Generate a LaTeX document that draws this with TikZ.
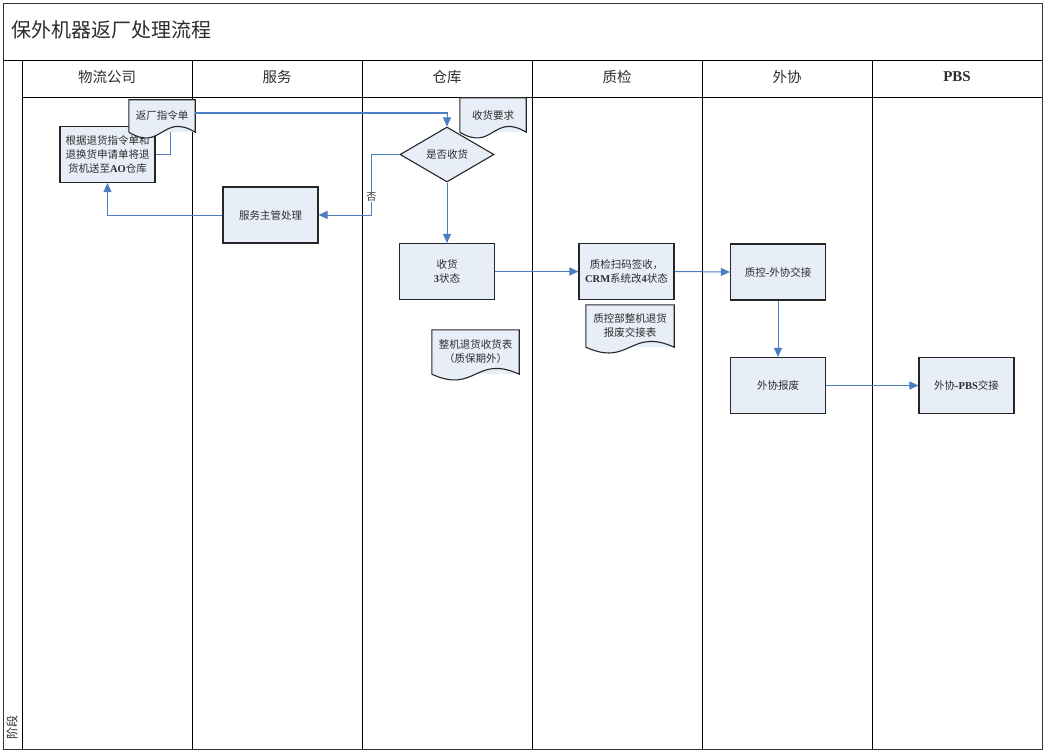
\documentclass[tikz,border=0pt]{standalone}
\usepackage{fontspec}
\setmainfont{Noto Sans CJK SC}
\newfontfamily\latfont{Liberation Serif}
\usepackage{xcolor}
\usetikzlibrary{shapes.geometric, arrows.meta, positioning}

\definecolor{procfill}{RGB}{232,238,247}
\definecolor{flowblue}{RGB}{74,126,193}
\definecolor{textgray}{RGB}{45,45,45}

% document shape: fill the wave, then outline the whole sheet
\newcommand\docwave[1]{%
  \fill[procfill] (#1.south east) .. controls ([yshift=20pt]#1.south) and ([yshift=-20pt]#1.south) .. (#1.south west) -- cycle;
  \draw[black!85, line width=1.1pt] (#1.south west) -- (#1.north west) -- (#1.north east) -- (#1.south east)
    .. controls ([yshift=20pt]#1.south) and ([yshift=-20pt]#1.south) .. (#1.south west);}

\begin{document}
\begin{tikzpicture}[
    x=1pt, y=-1pt,
    lane/.style={draw=black, line width=0.9pt},
    head/.style={font=\fontsize{14.5}{16}\selectfont, text=textgray},
    proc/.style={draw=black!85, line width=1.1pt, fill=procfill, minimum width=95pt, minimum height=56pt, inner sep=2pt, align=center, text=textgray, font=\fontsize{10.5}{14}\selectfont},
    decide/.style={draw=black!85, line width=1.1pt, fill=procfill, diamond, minimum width=94pt, minimum height=55pt, inner sep=0pt, text=textgray, font=\fontsize{10.5}{14}\selectfont},
    doc/.style={fill=procfill, inner sep=2pt, align=center, text=textgray, font=\fontsize{10.5}{14}\selectfont},
    link/.style={draw=flowblue, line width=1pt},
    flow/.style={link, -{Triangle[length=9pt,width=8pt]}}
]
\useasboundingbox (0,0) rectangle (1045,752);

% frame and swimlanes
\draw[black!80, line width=0.9pt] (3,3) rectangle (1042,749);
\draw[lane] (3,60) -- (1042,60);
\draw[lane] (22,97) -- (1042,97);
\draw[lane] (22,60) -- (22,749);
\draw[lane] (192,60) -- (192,749);
\draw[lane] (362,60) -- (362,749);
\draw[lane] (532,60) -- (532,749);
\draw[lane] (702,60) -- (702,749);
\draw[lane] (872,60) -- (872,749);

\node[anchor=west, font=\fontsize{20}{22}\selectfont, text=textgray] (title) at (8,30) {保外机器返厂处理流程};
\node[head] (hlogi) at (107,77) {物流公司};
\node[head] (hserv) at (277,77) {服务};
\node[head] (hware) at (447,77) {仓库};
\node[head] (hqc) at (617,77) {质检};
\node[head] (hout) at (787,77) {外协};
\node[head, font=\latfont\bfseries\fontsize{15}{17}\selectfont] (hpbs) at (957,77) {PBS};
\node[rotate=90, font=\fontsize{12}{14}\selectfont, text=textgray] (stage) at (12,727) {阶段};

% nodes
\node[proc] (logi) at (107.5,154.5) {根据退货指令单和\\退换货申请单将退\\货机送至{\latfont\bfseries AO}仓库};
\node[doc, minimum width=66pt, minimum height=32pt] (order) at (162,116) {返厂指令单};
\docwave{order}
\node[doc, minimum width=66pt, minimum height=34pt] (req) at (493,115) {收货要求};
\docwave{req}
\node[decide] (check) at (447,154.5) {是否收货};
\node[proc] (serv) at (270.5,215) {服务主管处理};
\node[proc] (recv) at (447,271.5) {收货\\{\latfont\bfseries 3}状态};
\node[proc] (qc) at (626.5,271.5) {质检扫码签收，\\{\latfont\bfseries CRM}系统改{\latfont\bfseries 4}状态};
\node[proc] (hand) at (778,272) {质控{\latfont\bfseries -}外协交接};
\node[proc] (scrap) at (778,385.5) {外协报废};
\node[proc] (pbs) at (966.5,385.5) {外协{\latfont\bfseries -PBS}交接};
\node[doc, minimum width=87pt, minimum height=44pt] (recvform) at (475.5,352) {整机退货收货表\\（质保期外）};
\docwave{recvform}
\node[doc, minimum width=88pt, minimum height=42pt] (scrapform) at (630,326) {质控部整机退货\\报废交接表};
\docwave{scrapform}

% connectors
\draw[link] ([xshift=8pt]order.south) |- (logi.east);
\draw[flow] ([yshift=3pt]order.east) -| (check.north);
\draw[flow] (check.west) -- ++(-28,0) |- node[pos=0.35, fill=white, inner sep=1pt, font=\fontsize{10}{12}\selectfont, text=textgray] {否} (serv.east);
\draw[flow] (serv.west) -| (logi.south);
\draw[flow] (check.south) -- (recv.north);
\draw[flow] (recv.east) -- (qc.west);
\draw[flow] (qc.east) -- (hand.west);
\draw[flow] (hand.south) -- (scrap.north);
\draw[flow] (scrap.east) -- (pbs.west);
\end{tikzpicture}
\end{document}
